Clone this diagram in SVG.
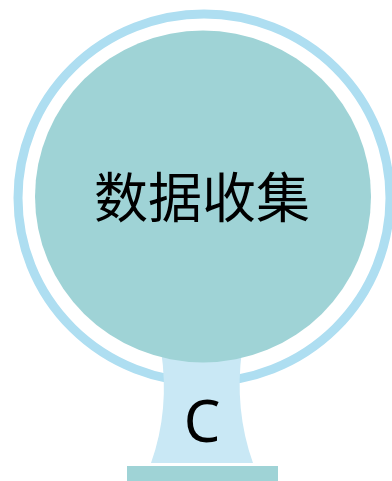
<svg xmlns="http://www.w3.org/2000/svg" width="392" height="481" viewBox="0 0 392 481">
<style>
.ring{fill:none;stroke:#AEDEF1;stroke-width:9}
.ball{fill:#9FD3D6}
.stem{fill:#C9E8F5}
.base{fill:#9FD3D6}
.t{font-family:"Noto Sans","Noto Sans CJK SC",sans-serif;fill:#000;text-anchor:middle}
</style>
<rect width="392" height="481" fill="#fff"/>
<g id="ring"><ellipse class="ring" cx="204" cy="198" rx="186" ry="184"/></g>
<g id="stand">
<path class="stem" d="M161,350 L242,350 Q234,410 253,463 L151,463 Q170,410 161,350 Z"/>
<text class="t" x="202" y="442" font-size="58">C</text>
</g>
<g id="base"><rect class="base" x="127" y="466" width="151" height="15"/></g>
<g id="node"><ellipse class="ball" cx="203" cy="196.5" rx="168" ry="166"/>
<text class="t" x="202" y="218" font-size="54">数据收集</text></g>
<g id="connectors"/>
</svg>
